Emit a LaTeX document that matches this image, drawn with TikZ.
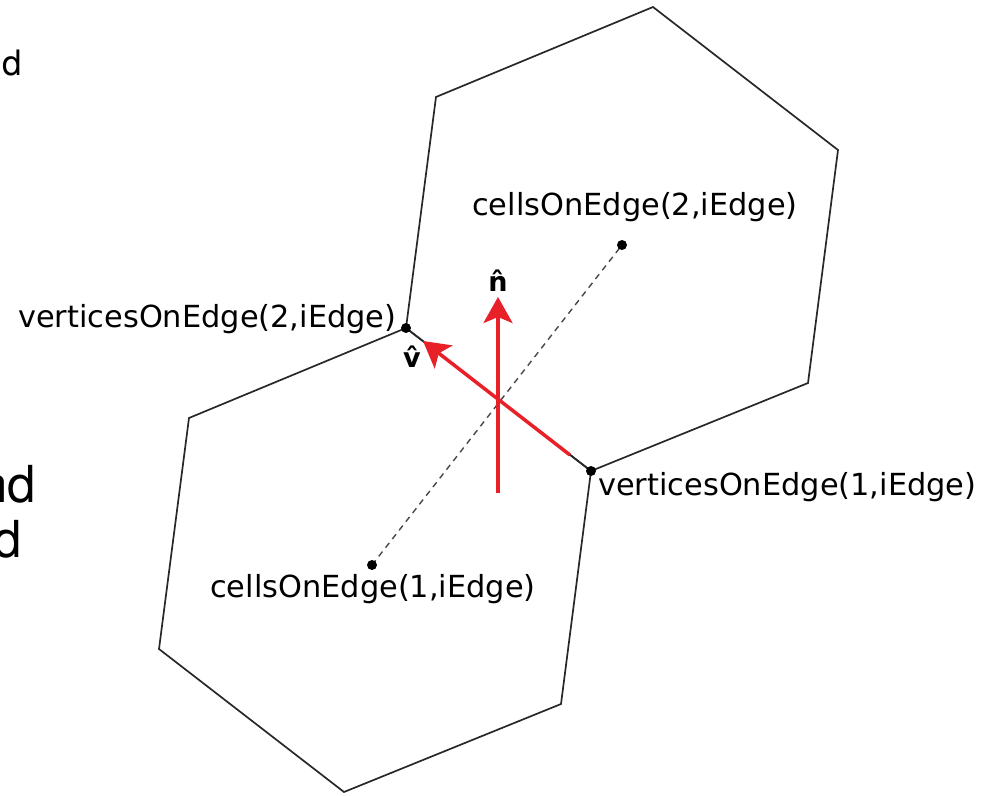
\documentclass[tikz,border=0pt]{standalone}
\usepackage{fontspec}
\setmainfont{DejaVu Sans}
\newfontfamily\slidefont{TeX Gyre Heros}
\usetikzlibrary{arrows.meta}
\definecolor{vecred}{RGB}{232,32,40}
\definecolor{edgegray}{RGB}{40,40,40}
\begin{document}
\begin{tikzpicture}[x=1pt,y=-1pt,
  cell/.style={draw=edgegray,line width=1.7pt,line join=miter},
  link/.style={draw=edgegray!85,line width=1.4pt,dash pattern=on 6pt off 5pt},
  vec/.style={draw=vecred,line width=3.5pt,-{Stealth[length=26pt,width=29pt,inset=6pt]}},
  lbl/.style={inner sep=0pt,font=\fontsize{30.4}{36}\selectfont},
  hatlbl/.style={inner sep=0pt,font=\fontsize{27}{32}\selectfont\bfseries},
  side/.style={inner sep=0pt,anchor=base east},
  pt/.style={circle,fill=black,inner sep=0pt,minimum size=10pt}]
\useasboundingbox (0,0) rectangle (982,795);

% two neighbouring hexagonal cells
\coordinate (a1) at (653,7);
\coordinate (a2) at (838,150);
\coordinate (a3) at (808,383);
\coordinate (v1) at (591,471);
\coordinate (v2) at (406,328);
\coordinate (a6) at (436,97);
\coordinate (b3) at (561,704);
\coordinate (b4) at (344,792);
\coordinate (b5) at (159,649);
\coordinate (b6) at (189,418);
\draw[cell] (a1) -- (a2) -- (a3) -- (v1) -- (v2) -- (a6) -- cycle;
\draw[cell] (v2) -- (v1) -- (b3) -- (b4) -- (b5) -- (b6) -- cycle;

% cell centres joined across the shared edge
\coordinate (c1) at (372,565);
\coordinate (c2) at (622,245);
\draw[link] (c1) -- (c2);

% unit vectors at the edge
\coordinate (vs) at (570,455);
\coordinate (vt) at (423,341);
\coordinate (ns) at (498,493);
\coordinate (nt) at (498,297);
\draw[vec] (vs) -- (vt);
\draw[vec] (ns) -- (nt);

% points
\node[pt] (pv1) at (v1) {};
\node[pt] (pv2) at (v2) {};
\node[pt] (pc1) at (c1) {};
\node[pt] (pc2) at (c2) {};

% labels
\node[lbl,anchor=base west] (lv2) at (18,327) {verticesOnEdge(2,iEdge)};
\node[lbl,anchor=base west] (lv1) at (598,495) {verticesOnEdge(1,iEdge)};
\node[lbl,anchor=base west] (lc1) at (210,597) {cellsOnEdge(1,iEdge)};
\node[lbl,anchor=base west] (lc2) at (472,215) {cellsOnEdge(2,iEdge)};
\node[hatlbl] (ln) at (498,281) {\^{n}};
\node[hatlbl] (lv) at (412,357) {\^{v}};

% text running in from the left margin
\node[side,font=\slidefont\fontsize{35}{40}\selectfont] (s1) at (22,75) {d};
\node[side,font=\slidefont\fontsize{51}{56}\selectfont] (s2) at (36,502) {nd};
\node[side,font=\slidefont\fontsize{51}{56}\selectfont] (s3) at (22,557) {d};
\end{tikzpicture}
\end{document}
